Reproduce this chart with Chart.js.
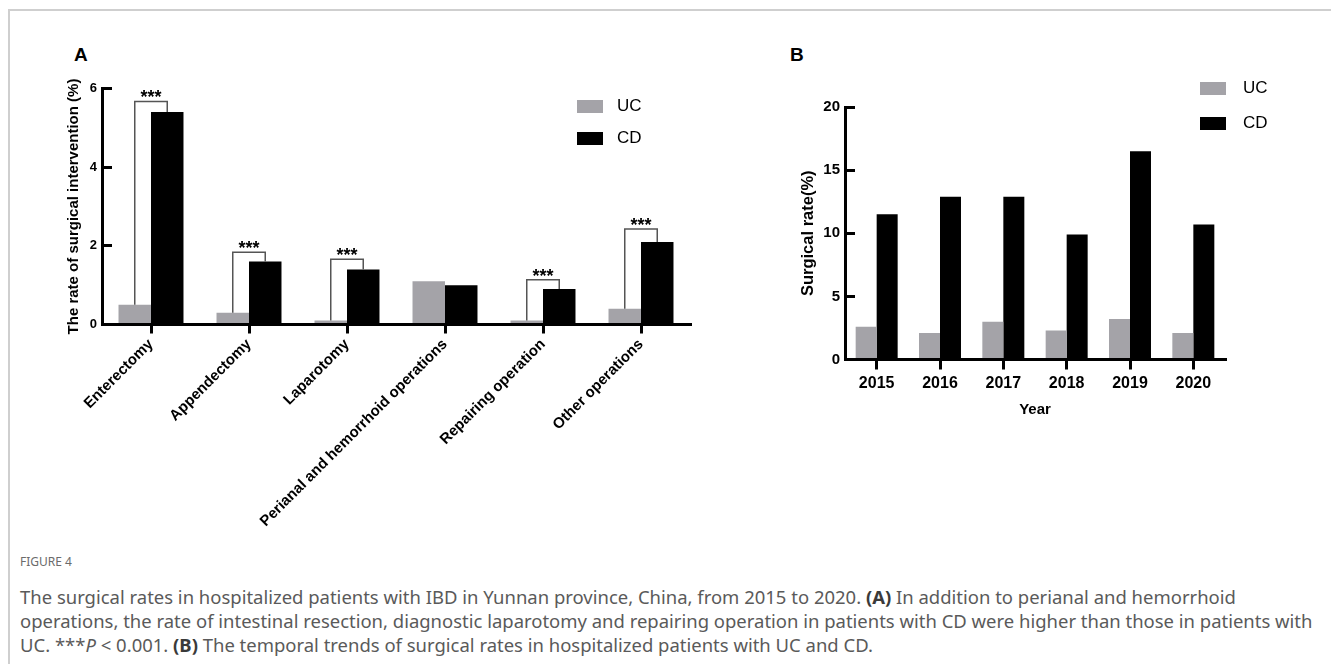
<!DOCTYPE html>
<html lang="en">
<head>
    <meta charset="UTF-8">
    <title>Surgical rates in hospitalized IBD patients, Yunnan 2015-2020</title>
    <script src="https://cdn.jsdelivr.net/npm/chart.js"></script>
    <style>
        body {
            margin: 0;
            width: 1331px;
            height: 664px;
            overflow: hidden;
            background: #fff;
            position: relative;
            font-family: "Liberation Sans", Arial, sans-serif;
        }
        .frame {
            position: absolute;
            left: 8px; top: 9px; right: -4px; bottom: -4px;
            border-left: 2px solid #cfcfcf;
            border-top: 2px solid #cfcfcf;
        }
        canvas { position: absolute; }
        .panel {
            position: absolute;
            font-weight: bold;
            font-size: 19px;
            line-height: 20px;
        }
        .lg-box { position: absolute; width: 26px; height: 13px; }
        .lg-text {
            position: absolute;
            font-size: 17px;
            line-height: 20px;
            color: #000;
        }
        .fig-label {
            position: absolute;
            left: 20px; top: 554px;
            font-family: "Noto Sans", sans-serif;
            font-size: 12px;
            line-height: 16px;
            color: #6b6b6b;
        }
        .caption {
            position: absolute;
            left: 20px; top: 585px;
            font-family: "Noto Sans", sans-serif;
            font-size: 16px;
            line-height: 24px;
            color: #5a5a5a;
            white-space: nowrap;
        }
        .caption b { color: #3a3a3a; }
    </style>
</head>
<body>
    <div class="frame"></div>

    <div class="panel" style="left:74px; top:45px;">A</div>
    <div class="panel" style="left:790px; top:45px;">B</div>

    <canvas id="chartA" width="720" height="540" style="left:0; top:0;"></canvas>
    <canvas id="chartB" width="600" height="440" style="left:730px; top:0;"></canvas>

    <!-- legends -->
    <div class="lg-box" style="left:577px; top:100px; background:#a4a3a8;"></div>
    <div class="lg-text" style="left:617px; top:96px;">UC</div>
    <div class="lg-box" style="left:577px; top:132px; background:#000;"></div>
    <div class="lg-text" style="left:617px; top:128px;">CD</div>

    <div class="lg-box" style="left:1200px; top:82px; background:#a4a3a8;"></div>
    <div class="lg-text" style="left:1243px; top:78px;">UC</div>
    <div class="lg-box" style="left:1200px; top:117px; background:#000;"></div>
    <div class="lg-text" style="left:1243px; top:113px;">CD</div>

    <div class="fig-label">FIGURE 4</div>
    <div class="caption">
        <div>The surgical rates in hospitalized patients with IBD in Yunnan province, China, from 2015 to 2020. <b>(A)</b> In addition to perianal and hemorrhoid</div>
        <div id="capLine2">operations, the rate of intestinal resection, diagnostic laparotomy and repairing operation in patients with CD were higher than those in patients with</div>
        <div>UC. ***<i>P</i> &lt; 0.001. <b>(B)</b> The temporal trends of surgical rates in hospitalized patients with UC and CD.</div>
    </div>

    <script>
        // panel A data
        const categoriesA = ['Enterectomy', 'Appendectomy', 'Laparotomy', 'Perianal and hemorrhoid operations', 'Repairing operation', 'Other operations'];
        const ucRateA = [0.5, 0.3, 0.1, 1.1, 0.1, 0.4];
        const cdRateA = [5.4, 1.6, 1.4, 1.0, 0.9, 2.1];
        const bracketA = [5.67, 1.84, 1.66, null, 1.14, 2.43];   // significance bracket heights
        const ticksA = [0, 2, 4, 6];

        // panel B data
        const yearsB = ['2015', '2016', '2017', '2018', '2019', '2020'];
        const ucRateB = [2.6, 2.1, 3.0, 2.3, 3.2, 2.1];
        const cdRateB = [11.5, 12.9, 12.9, 9.9, 16.5, 10.7];
        const ticksB = [0, 5, 10, 15, 20];

        const UC_COLOR = '#a4a3a8';
        const CD_COLOR = '#000000';
        const FONT = '"Liberation Sans", Arial, sans-serif';

        // squeeze the caption so line 2 fills the column
        const cap = document.querySelector('.caption');
        const line2 = document.getElementById('capLine2');
        const span = document.createElement('span');
        span.textContent = line2.textContent;
        line2.textContent = '';
        line2.appendChild(span);
        const w = span.getBoundingClientRect().width;
        if (w > 0) cap.style.fontSize = (16 * 1293 / w).toFixed(2) + 'px';

        // draws the *** brackets over the bar pairs
        const bracketPlugin = {
            id: 'brackets',
            afterDatasetsDraw(chart, args, opts) {
                if (!opts.values) return;
                const ctx = chart.ctx;
                const y = chart.scales.y;
                const m0 = chart.getDatasetMeta(0).data;
                const m1 = chart.getDatasetMeta(1).data;
                ctx.save();
                ctx.strokeStyle = '#555';
                ctx.lineWidth = 1.5;
                ctx.fillStyle = '#000';
                ctx.font = 'bold 18px ' + FONT;
                ctx.textAlign = 'center';
                ctx.textBaseline = 'alphabetic';
                opts.values.forEach((v, i) => {
                    if (v == null) return;
                    const x1 = m0[i].x, x2 = m1[i].x;
                    const top = y.getPixelForValue(v);
                    ctx.beginPath();
                    ctx.moveTo(x1, m0[i].y);
                    ctx.lineTo(x1, top);
                    ctx.lineTo(x2, top);
                    ctx.lineTo(x2, m1[i].y);
                    ctx.stroke();
                    ctx.fillText('***', (x1 + x2) / 2, top + 2);
                });
                ctx.restore();
            }
        };

        function axisBox(size, key) {
            return function (scale) {
                scale[key] = size;
                scale.paddingLeft = 0;
                scale.paddingRight = 0;
                scale.paddingTop = 0;
                scale.paddingBottom = 0;
            };
        }

        // Panel A
        new Chart(document.getElementById('chartA'), {
            type: 'bar',
            data: {
                labels: categoriesA,
                datasets: [
                    { label: 'UC', data: ucRateA, backgroundColor: UC_COLOR },
                    { label: 'CD', data: cdRateA, backgroundColor: CD_COLOR }
                ]
            },
            options: {
                responsive: false,
                animation: false,
                layout: { padding: { top: 88.5, right: 30, bottom: 0, left: 0 } },
                datasets: { bar: { categoryPercentage: 0.663, barPercentage: 1.0 } },
                plugins: {
                    legend: { display: false },
                    tooltip: { enabled: false },
                    brackets: { values: bracketA }
                },
                scales: {
                    x: {
                        grid: { display: true, drawOnChartArea: false, offset: false, color: '#000', lineWidth: 3, tickLength: 9 },
                        border: { display: true, color: '#000', width: 3 },
                        ticks: {
                            autoSkip: false, maxRotation: 45, minRotation: 45, padding: 2,
                            color: '#000', font: { family: FONT, size: 15, weight: 'bold' }
                        },
                        afterFit: axisBox(215.5, 'height')
                    },
                    y: {
                        min: ticksA[0],
                        max: ticksA[ticksA.length - 1],
                        afterBuildTicks: (s) => { s.ticks = ticksA.map(v => ({ value: v })); },
                        grid: { display: true, drawOnChartArea: false, color: '#000', lineWidth: 3, tickLength: -10 },
                        border: { display: true, color: '#000', width: 3 },
                        ticks: { padding: 15, color: '#000', font: { family: FONT, size: 13, weight: 'bold' } },
                        title: {
                            display: true, text: 'The rate of surgical intervention (%)', color: '#000',
                            font: { family: FONT, size: 15, weight: 'bold' },
                            padding: { top: 64.5, bottom: 0 }
                        },
                        afterFit: axisBox(102, 'width')
                    }
                }
            },
            plugins: [bracketPlugin]
        });

        // Panel B
        new Chart(document.getElementById('chartB'), {
            type: 'bar',
            data: {
                labels: yearsB,
                datasets: [
                    { label: 'UC', data: ucRateB, backgroundColor: UC_COLOR },
                    { label: 'CD', data: cdRateB, backgroundColor: CD_COLOR }
                ]
            },
            options: {
                responsive: false,
                animation: false,
                layout: { padding: { top: 107, right: 105, bottom: 0, left: 0 } },
                datasets: { bar: { categoryPercentage: 0.663, barPercentage: 1.0 } },
                plugins: {
                    legend: { display: false },
                    tooltip: { enabled: false }
                },
                scales: {
                    x: {
                        grid: { display: true, drawOnChartArea: false, offset: false, color: '#000', lineWidth: 3, tickLength: 10 },
                        border: { display: true, color: '#000', width: 3 },
                        ticks: { autoSkip: false, maxRotation: 0, padding: 4, color: '#000', font: { family: FONT, size: 16, weight: 'bold' } },
                        title: {
                            display: true, text: 'Year', color: '#000',
                            font: { family: FONT, size: 15, weight: 'bold' },
                            padding: { top: 21, bottom: 21 }
                        },
                        afterFit: axisBox(80.5, 'height')
                    },
                    y: {
                        min: ticksB[0],
                        max: ticksB[ticksB.length - 1],
                        afterBuildTicks: (s) => { s.ticks = ticksB.map(v => ({ value: v })); },
                        grid: { display: true, drawOnChartArea: false, color: '#000', lineWidth: 3, tickLength: -10 },
                        border: { display: true, color: '#000', width: 3 },
                        ticks: { padding: 15, color: '#000', font: { family: FONT, size: 15, weight: 'bold' } },
                        title: {
                            display: true, text: 'Surgical rate(%)', color: '#000',
                            font: { family: FONT, size: 16.5, weight: 'bold' },
                            padding: { top: 69, bottom: 0 }
                        },
                        afterFit: axisBox(115, 'width')
                    }
                }
            }
        });
    </script>
</body>
</html>
